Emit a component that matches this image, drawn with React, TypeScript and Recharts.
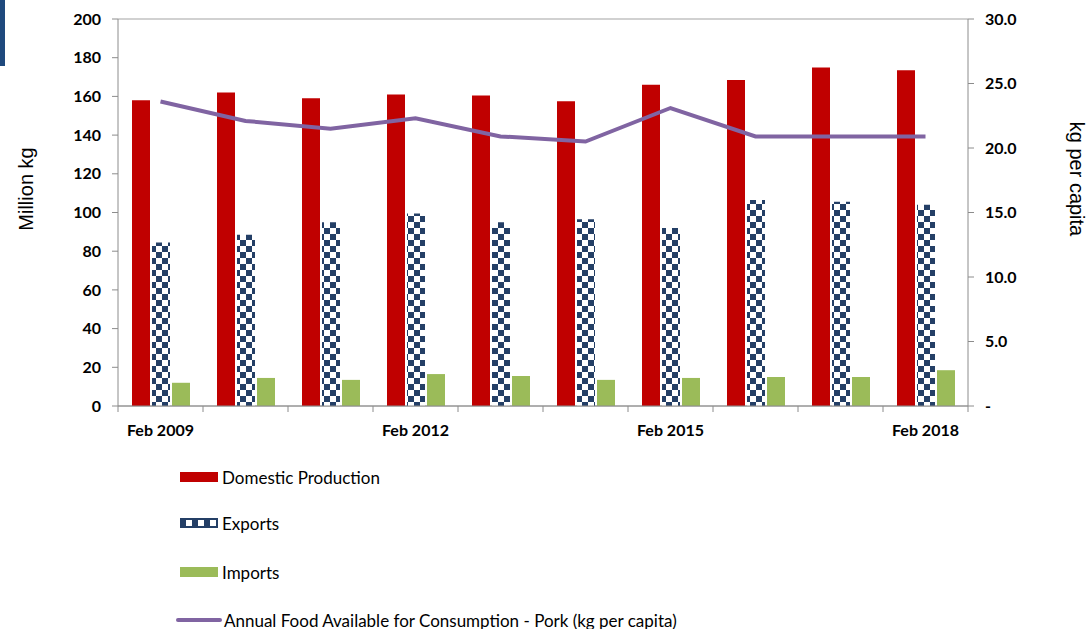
import React from 'react';
import {
  ComposedChart, Bar, Line, XAxis, YAxis, CartesianGrid,
} from 'recharts';

const categories = [
  'Feb 2009', 'Feb 2010', 'Feb 2011', 'Feb 2012', 'Feb 2013',
  'Feb 2014', 'Feb 2015', 'Feb 2016', 'Feb 2017', 'Feb 2018',
];
const domestic = [158, 162, 159, 161, 160.5, 157.5, 166, 168.5, 175, 173.5];
const exportsKg = [84.5, 88.5, 95, 99.5, 95, 96.5, 92, 106.5, 105.5, 104];
const importsKg = [12, 14.5, 13.5, 16.5, 15.5, 13.5, 14.5, 15, 15, 18.5];
const perCapita = [23.6, 22.1, 21.5, 22.3, 20.9, 20.5, 23.1, 20.9, 20.9, 20.9];

const shownLabels = ['Feb 2009', 'Feb 2012', 'Feb 2015', 'Feb 2018'];
const leftTicks = [0, 20, 40, 60, 80, 100, 120, 140, 160, 180, 200];
const rightTicks = [0, 5, 10, 15, 20, 25, 30];

const seriesNames = {
  domestic: 'Domestic Production',
  exports: 'Exports',
  imports: 'Imports',
  perCapita: 'Annual Food Available for Consumption - Pork (kg per capita)',
};

const RED = '#C00000';
const NAVY = '#243F66';
const GREEN = '#9BBB59';
const PURPLE = '#8064A2';
const GRID = '#8C8C8C';
const FONT = 'Lato, "Liberation Sans", sans-serif';
const TITLE_FONT = '"Liberation Sans", Arial, sans-serif';

const data = categories.map((c, i) => ({
  cat: c,
  domestic: domestic[i],
  exports: exportsKg[i],
  imports: importsKg[i],
  perCapita: perCapita[i],
}));

const BAND = 850 / categories.length;

function XTick(props: any) {
  const { x, y, payload, index } = props;
  const cx = Number(x);
  const ty = Number(y);
  const last = index === categories.length - 1;
  return (
    <g>
      <line x1={cx - BAND / 2} x2={cx - BAND / 2} y1={ty} y2={ty + 6} stroke={GRID} />
      {last && <line x1={cx + BAND / 2} x2={cx + BAND / 2} y1={ty} y2={ty + 6} stroke={GRID} />}
      {shownLabels.includes(payload.value) && (
        <text x={cx} y={ty + 30} textAnchor="middle" fontFamily={FONT} fontWeight={700} fontSize={16} fill="#000">
          {payload.value}
        </text>
      )}
    </g>
  );
}

function Swatch({ kind }: { kind: string }) {
  if (kind === 'line') {
    return <div style={{ width: 46, height: 4, background: PURPLE, borderRadius: 2, marginLeft: -4 }} />;
  }
  if (kind === 'exports') {
    return (
      <svg width={38} height={10} style={{ display: 'block' }}>
        <rect width={38} height={10} fill={NAVY} />
        {[6, 18, 30].map((x) => (
          <rect key={x} x={x} y={2} width={6} height={6} fill="#fff" />
        ))}
      </svg>
    );
  }
  return <div style={{ width: 38, height: 10, background: kind === 'domestic' ? RED : GREEN }} />;
}

export default function App() {
  const legendItems = [
    { key: 'domestic', top: 477 },
    { key: 'exports', top: 523 },
    { key: 'imports', top: 572 },
    { key: 'perCapita', top: 620 },
  ];
  return (
    <div style={{ position: 'absolute', left: 0, top: 0, width: 1090, height: 629, background: '#fff', overflow: 'hidden' }}>
      <div style={{ position: 'absolute', left: 0, top: 0, width: 5, height: 66, background: '#1F497D' }} />
      <ComposedChart
        width={1090}
        height={629}
        data={data}
        margin={{ top: 19, right: 62, left: 58, bottom: 193 }}
        barGap={2}
        barSize={18}
      >
        <defs>
          <pattern id="checker" width={12} height={12} patternUnits="userSpaceOnUse">
            <rect width={12} height={12} fill="#fff" />
            <rect x={0} y={0} width={6} height={6} fill={NAVY} />
            <rect x={6} y={6} width={6} height={6} fill={NAVY} />
          </pattern>
        </defs>
        <CartesianGrid vertical={false} stroke={GRID} strokeOpacity={0.8} />
        <XAxis
          dataKey="cat"
          interval={0}
          tickLine={false}
          tickSize={0}
          tickMargin={0}
          tick={(p: any) => <XTick {...p} />}
          stroke={GRID}
          height={30}
        />
        <YAxis
          yAxisId="left"
          domain={[0, 200]}
          ticks={leftTicks}
          width={60}
          tickSize={6}
          tickMargin={11}
          stroke={GRID}
          tick={{ fontFamily: FONT, fontWeight: 700, fontSize: 16, fill: '#000' }}
        />
        <YAxis
          yAxisId="right"
          orientation="right"
          domain={[0, 30]}
          ticks={rightTicks}
          width={60}
          tickSize={6}
          tickMargin={11}
          stroke={GRID}
          tickFormatter={(v: number) => (v === 0 ? '-' : v.toFixed(1))}
          tick={{ fontFamily: FONT, fontWeight: 700, fontSize: 16, fill: '#000', textAnchor: 'start' }}
        />
        <Bar yAxisId="left" dataKey="domestic" name={seriesNames.domestic} fill={RED} isAnimationActive={false} />
        <Bar yAxisId="left" dataKey="exports" name={seriesNames.exports} fill="url(#checker)" isAnimationActive={false} />
        <Bar yAxisId="left" dataKey="imports" name={seriesNames.imports} fill={GREEN} isAnimationActive={false} />
        <Line
          yAxisId="right"
          dataKey="perCapita"
          name={seriesNames.perCapita}
          type="linear"
          stroke={PURPLE}
          strokeWidth={4}
          dot={false}
          isAnimationActive={false}
        />
        <text x={28} y={189} transform="rotate(-90 28 189)" textAnchor="middle" dominantBaseline="middle" fontFamily={TITLE_FONT} fontSize={20} fill="#000">
          Million kg
        </text>
        <text x={1075} y={179} transform="rotate(90 1075 179)" textAnchor="middle" dominantBaseline="middle" fontFamily={TITLE_FONT} fontSize={20} fill="#000">
          kg per capita
        </text>
      </ComposedChart>
      {legendItems.map((it) => (
        <div
          key={it.key}
          style={{
            position: 'absolute', left: 180, top: it.top - 12, height: 24,
            display: 'flex', alignItems: 'center', gap: it.key === 'perCapita' ? 2 : 4,
            fontFamily: FONT, fontSize: 17, color: '#000', whiteSpace: 'nowrap',
          }}
        >
          <Swatch kind={it.key === 'perCapita' ? 'line' : it.key} />
          <span>{(seriesNames as any)[it.key]}</span>
        </div>
      ))}
    </div>
  );
}
